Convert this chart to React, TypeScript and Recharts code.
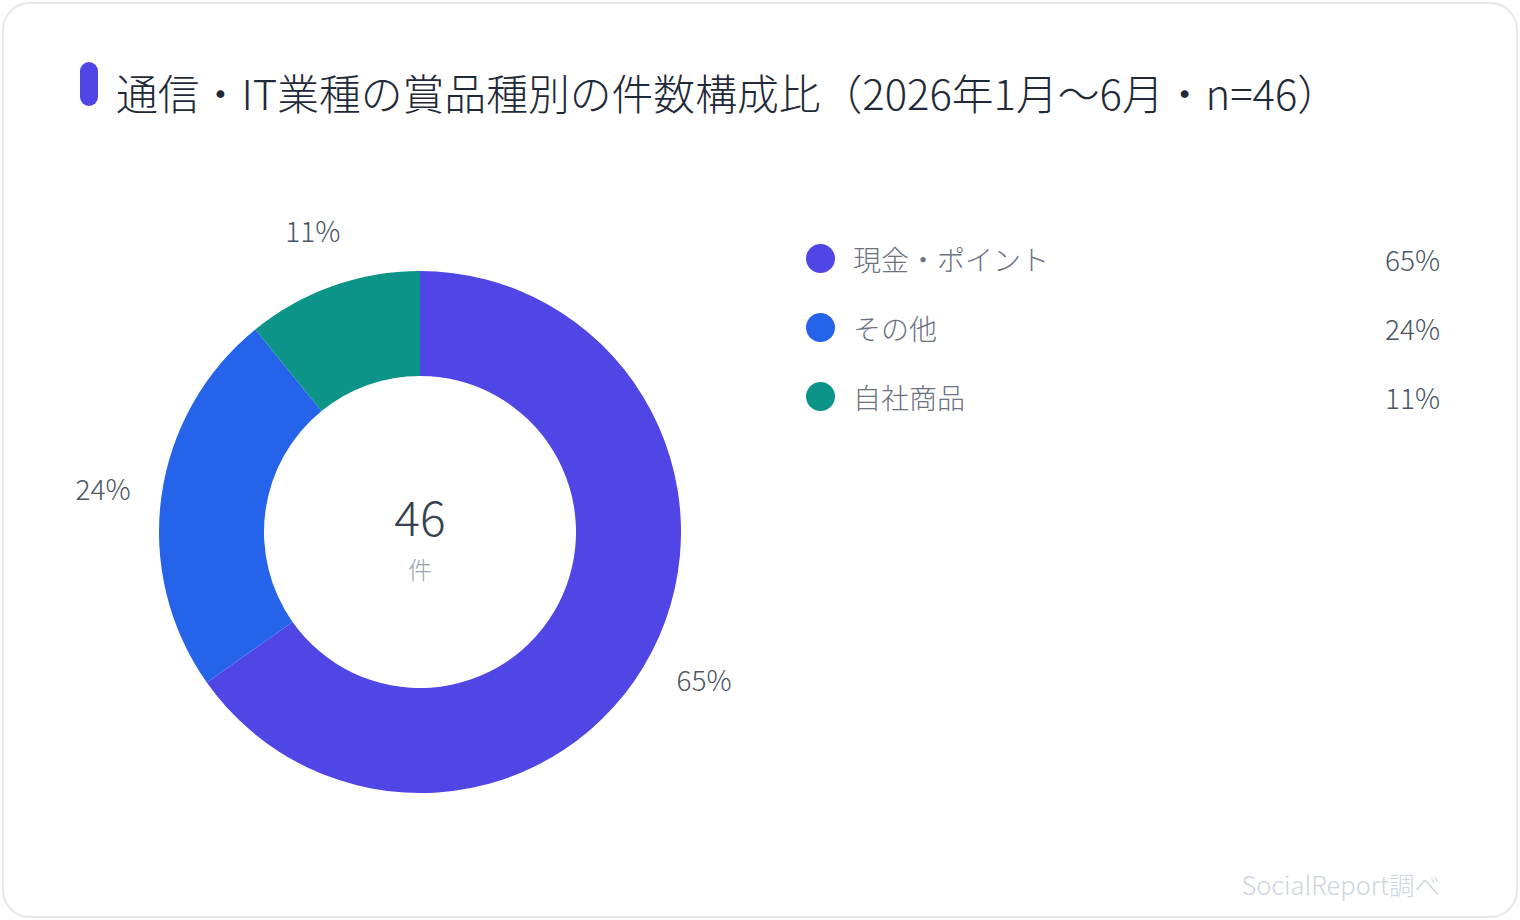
import { Cell, Pie, PieChart } from 'recharts';

const categories = ['現金・ポイント', 'その他', '自社商品'];
const counts = [30, 11, 5];
const colors = ['#4f46e5', '#2563eb', '#0d9488'];

const title = '通信・IT業種の賞品種別の件数構成比（2026年1月〜6月・n=46）';
const total = counts.reduce((a, b) => a + b, 0);

const chartData = categories.map((name, i) => ({ name, value: counts[i] }));

const FONT =
  '"Noto Sans CJK JP Light", "Noto Sans CJK JP DemiLight", "Noto Sans CJK JP", "Noto Sans", sans-serif';
const RAD = Math.PI / 180;

const pct = (v: number) => `${Math.round((v / total) * 100)}%`;

const renderLabel = (props: any) => {
  const { cx, cy, midAngle, outerRadius, value } = props;
  const r = outerRadius + 59;
  const x = cx + r * Math.cos(-midAngle * RAD);
  const y = cy + r * Math.sin(-midAngle * RAD);
  return (
    <text
      x={x}
      y={y}
      textAnchor="middle"
      dominantBaseline="central"
      fill="#4b5563"
      fontSize={28}
      fontWeight={300}
      fontFamily={FONT}
    >
      {pct(value)}
    </text>
  );
};

const LegendList = () => (
  <div
    style={{
      position: 'absolute',
      left: 806,
      top: 224,
      width: 634,
      fontFamily: FONT,
      fontWeight: 300,
    }}
  >
    {chartData.map((d, i) => (
      <div
        key={d.name}
        style={{ display: 'flex', alignItems: 'center', height: 69 }}
      >
        <span
          style={{
            width: 29,
            height: 29,
            borderRadius: '50%',
            background: colors[i],
            marginRight: 18,
            flexShrink: 0,
          }}
        />
        <span style={{ fontSize: 28, color: '#6b7280', flex: 1 }}>{d.name}</span>
        <span style={{ fontSize: 28, color: '#4b5563' }}>{pct(d.value)}</span>
      </div>
    ))}
  </div>
);

export default function App() {
  return (
    <div style={{ position: 'relative', width: 1520, height: 920, fontFamily: FONT }}>
      <style>{'body{margin:0}'}</style>
      <div
        style={{
          position: 'absolute',
          left: 2,
          top: 2,
          width: 1516,
          height: 916,
          boxSizing: 'border-box',
          border: '2px solid #e5e7eb',
          borderRadius: 28,
          background: '#fff',
        }}
      />
      <div
        style={{
          position: 'absolute',
          left: 80,
          top: 62,
          width: 18,
          height: 44,
          borderRadius: 9,
          background: colors[0],
        }}
      />
      <div
        style={{
          position: 'absolute',
          left: 116,
          top: 66,
          fontSize: 41.8,
          lineHeight: '52px',
          fontWeight: 300,
          color: '#1f2937',
          whiteSpace: 'nowrap',
        }}
      >
        {title}
      </div>
      <div style={{ position: 'absolute', left: 0, top: 0 }}>
        <PieChart
          width={840}
          height={920}
          margin={{ top: 0, right: 0, bottom: 0, left: 0 }}
        >
          <Pie
            data={chartData}
            dataKey="value"
            nameKey="name"
            cx={420}
            cy={532}
            innerRadius={156}
            outerRadius={261}
            startAngle={90}
            endAngle={-270}
            stroke="none"
            label={renderLabel}
            labelLine={false}
            isAnimationActive={false}
          >
            {chartData.map((d, i) => (
              <Cell key={d.name} fill={colors[i]} />
            ))}
          </Pie>
        </PieChart>
      </div>
      <LegendList />
      <div
        style={{
          position: 'absolute',
          left: 320,
          width: 200,
          top: 486,
          textAlign: 'center',
          fontSize: 48,
          lineHeight: '58px',
          fontWeight: 300,
          color: '#374151',
        }}
      >
        {total}
      </div>
      <div
        style={{
          position: 'absolute',
          left: 320,
          width: 200,
          top: 553,
          textAlign: 'center',
          fontSize: 24,
          lineHeight: '32px',
          fontWeight: 300,
          color: '#9ca3af',
        }}
      >
        件
      </div>
      <div
        style={{
          position: 'absolute',
          right: 80,
          top: 868,
          fontSize: 25.5,
          lineHeight: '32px',
          fontWeight: 300,
          color: '#cbd5e1',
          whiteSpace: 'nowrap',
        }}
      >
        SocialReport調べ
      </div>
    </div>
  );
}
